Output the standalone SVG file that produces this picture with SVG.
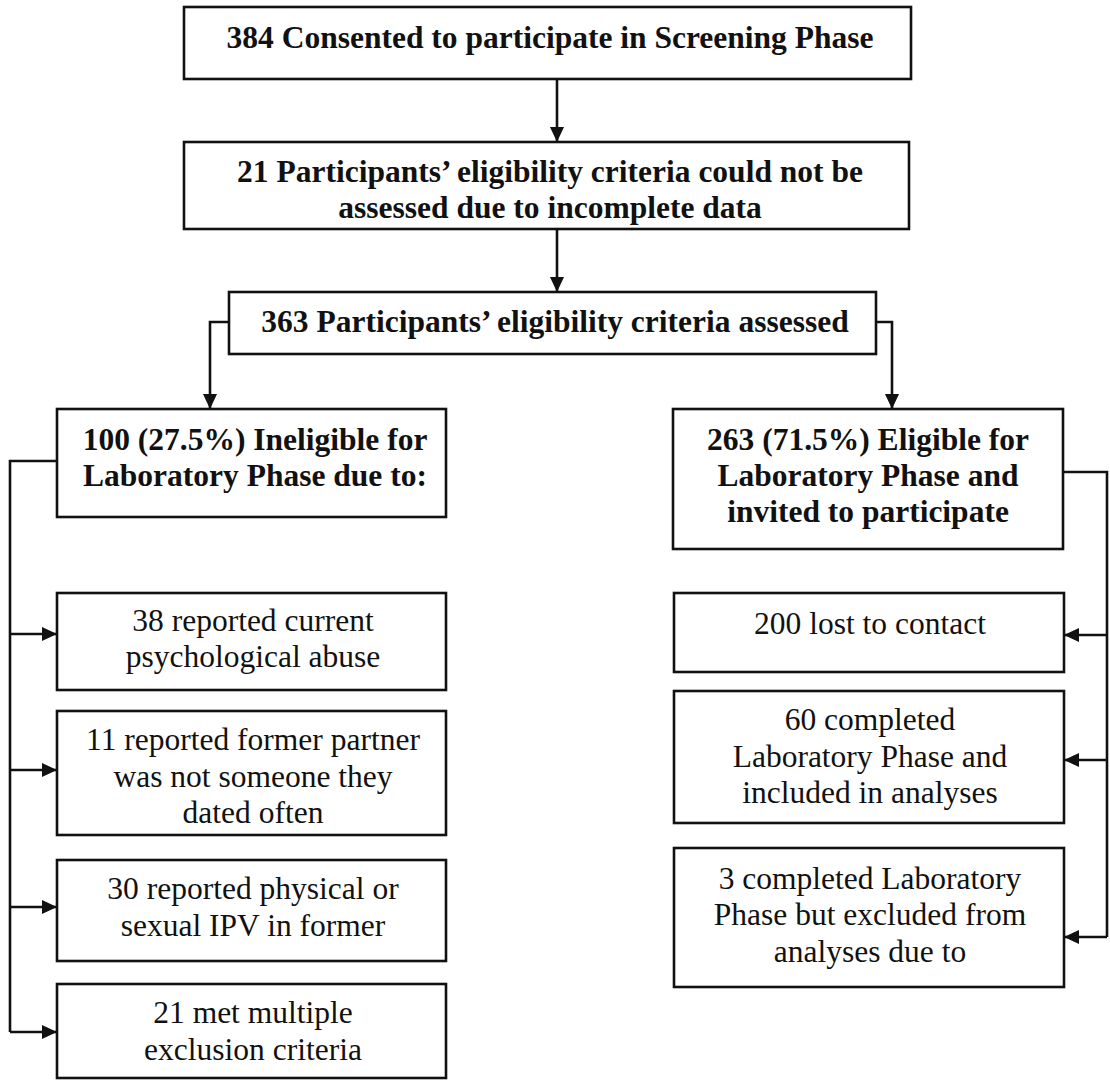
<svg xmlns="http://www.w3.org/2000/svg" width="1110" height="1082" viewBox="0 0 1110 1082">
<style>
.box{fill:#fff;stroke:#111;stroke-width:2.6}
.ln{fill:none;stroke:#111;stroke-width:2.6}
.t{font-family:"Liberation Serif","Times New Roman",serif;font-size:31.5px;fill:#111;text-anchor:middle}
.b{font-weight:bold}
</style>
<defs>
<marker id="ah" viewBox="0 0 15 14" refX="15" refY="7" markerWidth="15" markerHeight="14" markerUnits="userSpaceOnUse" orient="auto">
<path d="M0,0 L15,7 L0,14 z" fill="#111"/>
</marker>
</defs>
<rect width="1110" height="1082" fill="#fff"/>
<g id="connectors">
<path class="ln" d="M557,79 V142" marker-end="url(#ah)"/>
<path class="ln" d="M557,229 V292" marker-end="url(#ah)"/>
<path class="ln" d="M229,322 H210 V409" marker-end="url(#ah)"/>
<path class="ln" d="M876,322 H892 V409" marker-end="url(#ah)"/>
<path class="ln" d="M57,461 H10 V1032"/>
<path class="ln" d="M10,634 H57" marker-end="url(#ah)"/>
<path class="ln" d="M10,770 H57" marker-end="url(#ah)"/>
<path class="ln" d="M10,907 H57" marker-end="url(#ah)"/>
<path class="ln" d="M10,1032 H57" marker-end="url(#ah)"/>
<path class="ln" d="M1063,472 H1107 V937"/>
<path class="ln" d="M1107,635 H1064" marker-end="url(#ah)"/>
<path class="ln" d="M1107,760 H1064" marker-end="url(#ah)"/>
<path class="ln" d="M1107,937 H1064" marker-end="url(#ah)"/>
</g>
<g id="consented">
<rect class="box" x="184" y="7" width="727" height="72"/>
<text class="t b" x="550" y="48">384 Consented to participate in Screening Phase</text>
</g>
<g id="incomplete">
<rect class="box" x="184" y="142" width="725" height="87"/>
<text class="t b" x="550" y="182">21 Participants’ eligibility criteria could not be</text>
<text class="t b" x="550" y="218">assessed due to incomplete data</text>
</g>
<g id="assessed">
<rect class="box" x="229" y="292" width="647" height="62"/>
<text class="t b" x="555" y="332">363 Participants’ eligibility criteria assessed</text>
</g>
<g id="ineligible">
<rect class="box" x="57" y="409" width="389" height="108"/>
<text class="t b" x="255" y="450">100 (27.5%) Ineligible for</text>
<text class="t b" x="255" y="486">Laboratory Phase due to:</text>
</g>
<g id="eligible">
<rect class="box" x="673" y="409" width="390" height="140"/>
<text class="t b" x="868" y="450">263 (71.5%) Eligible for</text>
<text class="t b" x="868" y="486">Laboratory Phase and</text>
<text class="t b" x="868" y="522">invited to participate</text>
</g>
<g id="psych">
<rect class="box" x="57" y="593" width="389" height="97"/>
<text class="t" x="253" y="631">38 reported current</text>
<text class="t" x="253" y="667">psychological abuse</text>
</g>
<g id="former">
<rect class="box" x="57" y="711" width="389" height="124"/>
<text class="t" x="253" y="750">11 reported former partner</text>
<text class="t" x="253" y="787">was not someone they</text>
<text class="t" x="253" y="823">dated often</text>
</g>
<g id="ipv">
<rect class="box" x="57" y="860" width="389" height="101"/>
<text class="t" x="253" y="899">30 reported physical or</text>
<text class="t" x="253" y="936">sexual IPV in former</text>
</g>
<g id="multiple">
<rect class="box" x="57" y="984" width="389" height="94"/>
<text class="t" x="253" y="1023">21 met multiple</text>
<text class="t" x="253" y="1060">exclusion criteria</text>
</g>
<g id="lost">
<rect class="box" x="674" y="593" width="390" height="79"/>
<text class="t" x="870" y="634">200 lost to contact</text>
</g>
<g id="included">
<rect class="box" x="674" y="691" width="390" height="132"/>
<text class="t" x="870" y="730">60 completed</text>
<text class="t" x="870" y="767">Laboratory Phase and</text>
<text class="t" x="870" y="803">included in analyses</text>
</g>
<g id="excluded">
<rect class="box" x="674" y="848" width="390" height="139"/>
<text class="t" x="870" y="889">3 completed Laboratory</text>
<text class="t" x="870" y="925">Phase but excluded from</text>
<text class="t" x="870" y="962">analyses due to</text>
</g>
</svg>
